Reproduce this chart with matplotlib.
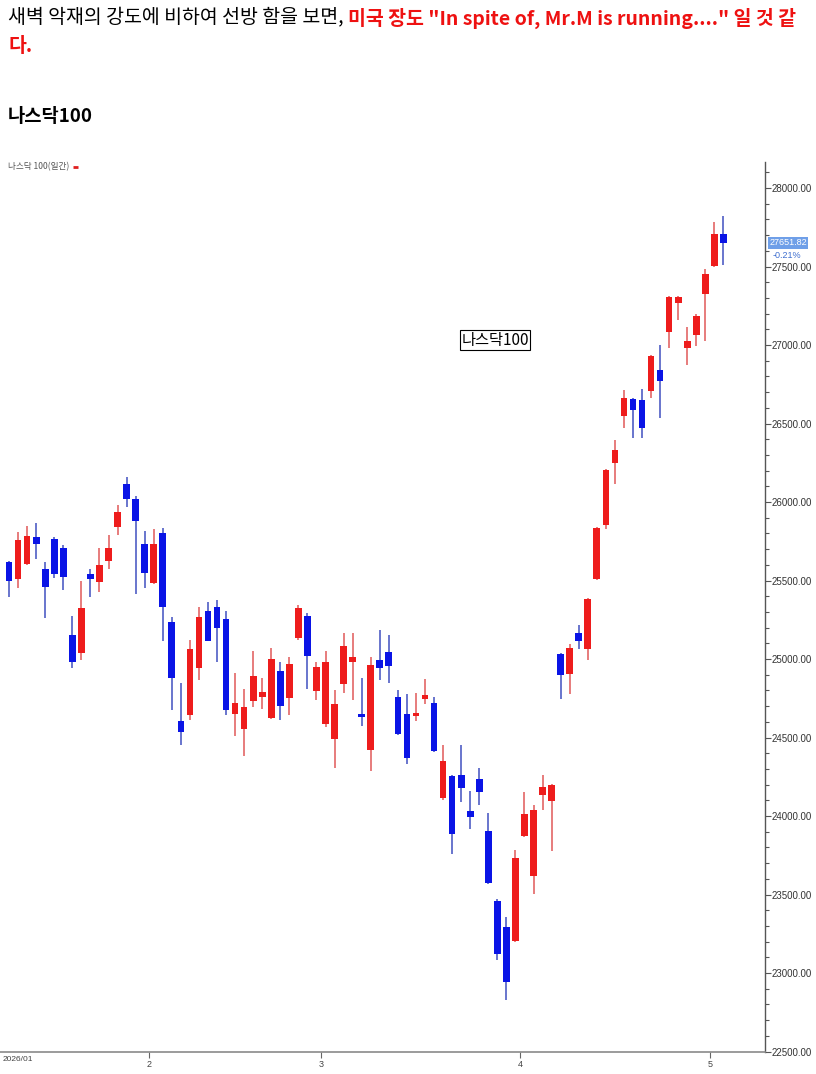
import numpy as np
import matplotlib
matplotlib.use("Agg")
import matplotlib.pyplot as plt
from matplotlib.ticker import MultipleLocator, FixedLocator, FormatStrFormatter

plt.rcParams['font.family'] = ['Liberation Sans', 'Noto Sans CJK KR', 'DejaVu Sans']
KR = ['Noto Sans CJK KR', 'DejaVu Sans']

# 나스닥100 일봉 (2026/01 ~ 2026/05)
opens = [25615, 25508, 25604, 25776, 25572, 25763, 25706, 25150, 25041, 25540,
         25489, 25623, 25840, 26115, 26019, 25731, 25482, 25802, 25233, 24607,
         24645, 24946, 25303, 25329, 25252, 24652, 24556, 24735, 24760, 24626,
         24926, 24754, 25131, 25271, 24799, 24588, 24492, 24843, 24984, 24652,
         24422, 24997, 25048, 24760, 24652, 24640, 24747, 24722, 24115, 24255,
         24262, 24032, 24236, 23904, 23457, 23291, 23201, 23872, 23617, 24134,
         24096, 25035, 24907, 25163, 25061, 25508, 25853, 26249, 26549, 26658,
         26652, 26709, 26843, 27080, 27271, 26984, 27061, 27323, 27502, 27710]
highs = [25625, 25808, 25847, 25866, 25617, 25776, 25725, 25271, 25495, 25572,
         25706, 25789, 25981, 26160, 26038, 25815, 25827, 25834, 25265, 24850,
         25124, 25329, 25361, 25374, 25303, 24914, 24811, 25054, 24882, 25073,
         24978, 25016, 25342, 25291, 24984, 25054, 24805, 25169, 25163, 24882,
         25016, 25182, 25150, 24805, 24779, 24786, 24875, 24760, 24454, 24262,
         24454, 24160, 24307, 24019, 23470, 23355, 23783, 24153, 24070, 24262,
         24204, 25040, 25093, 25220, 25387, 25840, 26211, 26396, 26716, 26664,
         26722, 26939, 27003, 27310, 27310, 27112, 27195, 27482, 27783, 27821]
lows = [25395, 25450, 25597, 25636, 25259, 25514, 25438, 24946, 24997, 25393,
        25425, 25572, 25789, 25968, 25412, 25450, 25478, 25112, 24677, 24454,
        24613, 24869, 25112, 24978, 24645, 24511, 24383, 24696, 24683, 24620,
        24613, 24645, 25124, 24811, 24741, 24569, 24307, 24786, 24741, 24575,
        24287, 24869, 24850, 24517, 24332, 24607, 24716, 24409, 24102, 23757,
        24089, 23917, 24070, 23565, 23080, 22830, 23195, 23866, 23501, 24038,
        23776, 24748, 24780, 25061, 24997, 25505, 25827, 26115, 26473, 26409,
        26409, 26664, 26537, 26984, 27157, 26875, 26997, 27029, 27500, 27508]
closes = [25500, 25757, 25783, 25731, 25457, 25540, 25521, 24978, 25323, 25508,
          25597, 25706, 25936, 26019, 25879, 25546, 25731, 25329, 24882, 24537,
          25067, 25265, 25118, 25195, 24677, 24722, 24696, 24894, 24792, 25003,
          24703, 24971, 25323, 25022, 24952, 24984, 24716, 25086, 25016, 24632,
          24965, 24946, 24958, 24524, 24370, 24655, 24773, 24415, 24351, 23885,
          24179, 23993, 24153, 23572, 23124, 22945, 23731, 24013, 24038, 24185,
          24198, 24901, 25073, 25112, 25380, 25834, 26204, 26332, 26664, 26588,
          26473, 26933, 26773, 27303, 27303, 27029, 27182, 27450, 27710, 27651.82]

# 월 시작 캔들 인덱스 (2, 3, 4, 5월)
month_starts = [16, 35, 57, 78]
month_labels = ["2", "3", "4", "5"]
first_label = "2026/01"
last_price = 27651.82
last_change = "-0.21%"

UP_BODY, UP_WICK = '#ee1c1c', '#e05858'
DN_BODY, DN_WICK = '#0a14e6', '#4050c0'

fig = plt.figure(figsize=(8.16, 10.74), dpi=100)
W, H = 816, 1074
ax = fig.add_axes([0, (H - 1052) / H, 765 / W, (1052 - 162) / H])

o = np.array(opens, dtype=float)
c = np.array(closes, dtype=float)
hi = np.array(highs, dtype=float)
lo = np.array(lows, dtype=float)
x = np.arange(len(o))
up = c >= o

body_bottom = np.minimum(o, c)
body_h = np.maximum(np.abs(c - o), 7)
ax.vlines(x, lo, hi, colors=np.where(up, UP_WICK, DN_WICK), linewidth=1.1, zorder=2)
ax.bar(x, body_h, bottom=body_bottom, width=0.74,
       color=np.where(up, UP_BODY, DN_BODY), linewidth=0, zorder=3)

ax.set_xlim(-1.0, 83.6)
ax.set_ylim(22497, 28166)

for s in ['top', 'left']:
    ax.spines[s].set_visible(False)
ax.spines['bottom'].set_color('#8a8a8a')
ax.spines['right'].set_color('#555555')
ax.spines['bottom'].set_linewidth(1.2)
ax.spines['right'].set_linewidth(1.0)

ax.yaxis.tick_right()
ax.yaxis.set_major_locator(MultipleLocator(500))
ax.yaxis.set_minor_locator(MultipleLocator(100))
ax.yaxis.set_major_formatter(FormatStrFormatter('%.2f'))
ax.tick_params(axis='y', which='major', length=4, width=0.8, colors='#555555',
               labelcolor='#333333', labelsize=7, pad=1)
ax.tick_params(axis='y', which='minor', length=3, width=0.8, colors='#555555')

ax.xaxis.set_major_locator(FixedLocator([m - 0.5 for m in month_starts]))
ax.set_xticklabels(month_labels)
ax.tick_params(axis='x', which='major', length=4, width=0.8, colors='#666666',
               labelcolor='#444444', labelsize=6.5, pad=2)
ax.text(0.004, -0.005, first_label, transform=ax.transAxes, ha='left', va='top',
        fontsize=6, color='#444444')

# 현재가 라벨
ax.annotate(f"{last_price:.2f}", xy=(1.0, last_price), xycoords=('axes fraction', 'data'),
            xytext=(3, 0), textcoords='offset points', ha='left', va='center',
            fontsize=6.5, color='white',
            bbox=dict(boxstyle='square,pad=0.15', fc='#6f9fe8', ec='none'))
ax.annotate(last_change, xy=(1.0, last_price), xycoords=('axes fraction', 'data'),
            xytext=(15.5, -9), textcoords='offset points', ha='center', va='center',
            fontsize=6.5, color='#3f6fd0')

# 범례
ax.text(0.010, 0.995, "나스닥 100(일간)", transform=ax.transAxes, ha='left', va='center',
        fontsize=6.2, color='#555555', family=KR)
ax.plot([0.095, 0.102], [0.9945, 0.9945], transform=ax.transAxes, color='#e02020',
        linewidth=2, solid_capstyle='butt', clip_on=False)

ax.text(0.647, 0.80, "나스닥100", transform=ax.transAxes, ha='center', va='center',
        fontsize=11, color='black', family=KR,
        bbox=dict(boxstyle='square,pad=0.08', fc='white', ec='black', lw=0.8))

# 상단 텍스트
renderer = fig.canvas.get_renderer()
t1 = fig.text(8 / W, 1 - 18 / H, "새벽 악재의 강도에 비하여 선방 함을 보면, ",
              fontsize=14, color='black', va='center', ha='left', family=KR)
bb = t1.get_window_extent(renderer=renderer)
fig.text(bb.x1 / W, 1 - 18 / H, "미국 장도 \"In spite of, Mr.M is running....\" 일 것 같",
         fontsize=14, color='#ee1111', va='center', ha='left', fontweight='bold', family=KR)
fig.text(8 / W, 1 - 46 / H, "다.", fontsize=14, color='#ee1111', va='center', ha='left',
         fontweight='bold', family=KR)
fig.text(8 / W, 1 - 116 / H, "나스닥100", fontsize=13.5, color='black', va='center', ha='left',
         fontweight='bold', family=KR)

fig.savefig("out.png", dpi=100)
